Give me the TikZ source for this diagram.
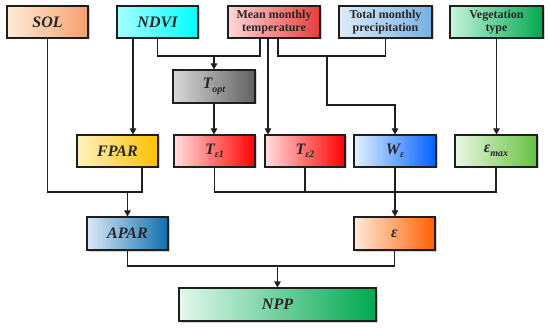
\documentclass[tikz,border=0pt]{standalone}
\usepackage{fontspec}
\setmainfont{Liberation Serif}
\usetikzlibrary{arrows.meta,shadows,calc}
\definecolor{bordc}{HTML}{1E1E1E}
\newcommand\lsub[1]{\raisebox{-0.22em}{\fontsize{10}{10}\selectfont #1}}
\begin{document}
\begin{tikzpicture}[x=1pt,y=-1pt,
  bx/.style={draw=bordc, line width=1.1pt, inner sep=0pt, align=center,
    minimum height=32pt, text=black!85,
    drop shadow={shadow xshift=1.5pt, shadow yshift=-1.5pt, opacity=0.35},
    font=\fontsize{16}{18}\selectfont\bfseries\itshape},
  tx/.style={font=\fontsize{12}{13.5}\selectfont\bfseries\upshape},
  ln/.style={draw=bordc, line width=1.1pt},
  arr/.style={ln, -{Triangle[length=6pt,width=6.5pt]}}]
\useasboundingbox (0,0) rectangle (550,329);
% top row
\node[bx, minimum width=81pt, left color=orange!15, right color={rgb,255:red,244;green,160;blue,110}] (SOL) at (47.5,22) {SOL};
\node[bx, minimum width=81pt, left color=cyan!35, right color=cyan] (NDVI) at (157.5,22) {NDVI};
\node[bx, tx, minimum width=92pt, left color={rgb,255:red,255;green,215;blue,215}, right color={rgb,255:red,232;green,60;blue,60}] (Mean) at (274,22) {Mean monthly\\temperature};
\node[bx, tx, minimum width=93pt, left color={rgb,255:red,220;green,236;blue,250}, right color={rgb,255:red,120;green,176;blue,226}] (Precip) at (385.5,22) {Total monthly\\precipitation};
\node[bx, tx, minimum width=93pt, left color={rgb,255:red,200;green,244;blue,220}, right color={rgb,255:red,0;green,168;blue,80}] (Veg) at (496.5,22) {Vegetation\\type};
% Topt
\node[bx, minimum width=82pt, minimum height=33pt, left color=black!15, right color=black!62] (Topt) at (214,86.5) {T\lsub{opt}};
% middle row
\node[bx, minimum width=81pt, left color={rgb,255:red,255;green,242;blue,190}, right color={rgb,255:red,255;green,192;blue,0}] (FPAR) at (117.5,151) {FPAR};
\node[bx, minimum width=81pt, left color={rgb,255:red,255;green,222;blue,222}, right color=red] (Te1) at (214.5,151) {T\lsub{ε1}};
\node[bx, minimum width=80pt, left color={rgb,255:red,255;green,222;blue,222}, right color=red] (Te2) at (305,151) {T\lsub{ε2}};
\node[bx, minimum width=82pt, left color={rgb,255:red,228;green,242;blue,255}, right color={rgb,255:red,0;green,96;blue,255}] (We) at (395,151) {W\lsub{ε}};
\node[bx, minimum width=82pt, left color={rgb,255:red,236;green,248;blue,228}, right color={rgb,255:red,100;green,192;blue,64}] (Emax) at (496,151) {ε\lsub{max}};
% lower row
\node[bx, minimum width=81pt, minimum height=33pt, left color={rgb,255:red,218;green,232;blue,248}, right color={rgb,255:red,16;green,112;blue,176}] (APAR) at (127.5,233.5) {APAR};
\node[bx, minimum width=81pt, minimum height=33pt, left color={rgb,255:red,255;green,234;blue,218}, right color={rgb,255:red,255;green,96;blue,0}] (Eps) at (394.5,233.5) {ε};
\node[bx, minimum width=197pt, minimum height=33pt, left color={rgb,255:red,226;green,248;blue,238}, right color={rgb,255:red,0;green,168;blue,80}] (NPP) at (277.5,304.5) {NPP};
% helper coordinates
\coordinate (c133) at (133,0);
\coordinate (c268) at (268,0);
\coordinate (c278) at (278,0);
\coordinate (jA) at (142,192);
\coordinate (jB) at (260,56);
\coordinate (jC) at (327,56);
\coordinate (jD) at (395,105);
\coordinate (jE) at (305,192);
\coordinate (jF) at (277.5,266);
% connectors
\draw[ln] (SOL.south) |- (jA) -- (jA |- FPAR.south);
\draw[arr] (APAR.north |- jA) -- (APAR.north);
\draw[arr] (NDVI.south -| c133) -- (FPAR.north -| c133);
\draw[ln] (NDVI.south) |- (jB) -- (jB |- Mean.south);
\draw[arr] (Topt.north |- jB) -- (Topt.north);
\draw[arr] (Topt.south) -- (Topt.south |- Te1.north);
\draw[arr] (Mean.south -| c268) -- (Te2.north -| c268);
\draw[ln] (Mean.south -| c278) |- (jC) -| (Precip.south);
\draw[arr] (jC) |- (jD) -- (We.north);
\draw[arr] (Veg.south) -- (Veg.south |- Emax.north);
\draw[ln] (Te1.south) |- (jE) -| (Emax.south);
\draw[ln] (Te2.south) -- (jE);
\draw[arr] (We.south) -- (We.south |- Eps.north);
\draw[ln] (APAR.south) |- (jF) -| (Eps.south);
\draw[arr] (jF) -- (NPP.north);
\end{tikzpicture}
\end{document}
